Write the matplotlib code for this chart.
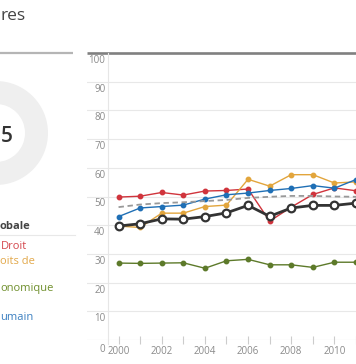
import matplotlib
matplotlib.use("Agg")
from matplotlib import pyplot
from matplotlib import transforms
from matplotlib.patches import Wedge

W, H = 356, 364

years = list(range(2000, 2012))
droit = [49.8, 50.1, 51.4, 50.5, 51.9, 52.1, 52.6, 41.4, 46.3, 50.7, 53.0, 52.0]
droits_de = [39.7, 39.2, 44.2, 44.2, 46.5, 47.0, 56.0, 53.6, 57.6, 57.6, 54.7, 55.1]
economique = [26.8, 26.7, 26.8, 26.9, 25.0, 27.6, 28.1, 26.2, 26.2, 25.3, 27.1, 27.1]
humain = [43.0, 46.0, 46.5, 47.0, 49.1, 50.6, 51.2, 52.1, 52.8, 53.8, 52.9, 55.9]
moyenne = [46.3, 47.2, 47.7, 48.0, 48.4, 48.8, 49.5, 49.9, 50.2, 50.2, 50.0, 49.9]
globale = [39.7, 40.5, 42.2, 42.1, 43.0, 44.3, 46.9, 43.1, 46.0, 46.9, 46.9, 47.7]

y_ticks = list(range(0, 101, 10))
x_tick_labels = [str(y) if y % 2 == 0 else "" for y in years]

legend_labels = ["obale", "Droit", "oits de", "onomique", "umain"]

pyplot.rcParams['font.family'] = ['Open Sans', 'DejaVu Sans']

fig = pyplot.figure(figsize=(W / 100, H / 100), dpi=100, facecolor='w')

# fond en pixels (origine en haut a gauche)
bg = fig.add_axes([0, 0, 1, 1])
bg.set_xlim(0, W)
bg.set_ylim(H, 0)
bg.axis('off')

bg.text(0, 19.5, "res", fontsize=12.5, color='#444444', va='baseline', ha='left')
bg.plot([0, 73], [52.5, 52.5], color='#b5b5b5', lw=1.6, solid_capstyle='butt')
bg.plot([87, W], [52.5, 52.5], color='#808080', lw=1.9, solid_capstyle='butt')

bg.add_patch(Wedge((-4, 133), 52, 0, 360, width=23, facecolor='#efefef', edgecolor='none'))
bg.text(13, 141.7, "5", fontsize=15, fontweight='semibold', color='#333333', ha='right', va='baseline')

bg.text(0, 229, legend_labels[0], fontsize=8, fontweight='bold', color='#444444', va='baseline')
bg.plot([0, 75], [235, 235], color='#e8e8e8', lw=0.8)
bg.text(1, 249, legend_labels[1], fontsize=8, color='#d4474d', va='baseline')
bg.text(0, 264.3, legend_labels[2], fontsize=8, color='#e2a84a', va='baseline')
bg.text(0, 291, legend_labels[3], fontsize=8, color='#6f8f2c', va='baseline')
bg.text(0, 320, legend_labels[4], fontsize=8, color='#3a7fc0', va='baseline')

# graphique principal
x0 = 2000 - (119.3 - 87) / 22.1
x1 = 2000 + (W - 119.3) / 22.1
ax = fig.add_axes([87 / W, (H - 340) / H, (W - 87) / W, 287 / H])
ax.set_facecolor('none')
ax.set_xlim(x0, x1)
ax.set_ylim(0, 100)
for s in ax.spines.values():
    s.set_visible(False)

for v in y_ticks[:-1]:
    ax.axhline(v, color='#d9d9d9' if v == 0 else '#e8e8e8', lw=0.8, zorder=0)
ax.axvline(2000 - (119.3 - 108) / 22.1, ymin=-0.015, ymax=1, color='#e6e6e6', lw=0.8, zorder=0, clip_on=False)

lab_tr = transforms.offset_copy(
    transforms.blended_transform_factory(fig.transFigure, ax.transData),
    fig=fig, x=0, y=-7.5, units='dots')
for v in y_ticks:
    dy = -2.5 if v == 0 else 0
    ax.text(105.5 / W, v, str(v), transform=transforms.offset_copy(lab_tr, fig=fig, y=dy, units='dots'),
            fontsize=7, color='#8a8a8a', ha='right', va='center')

ax.set_yticks([])
ax.set_xticks(years)
ax.set_xticklabels(x_tick_labels)
ax.tick_params(axis='x', direction='inout', length=6, width=0.8, color='#cccccc',
               labelsize=7, labelcolor='#8a8a8a', pad=1.5)

ax.plot(years, economique, color='#5d7a2a', lw=1.0, marker='o', ms=3.2, zorder=3)
ax.plot(years, droit, color='#d0343c', lw=1.0, marker='o', ms=3.2, zorder=3)
ax.plot(years, droits_de, color='#e2a53c', lw=1.0, marker='o', ms=3.2, zorder=3)
ax.plot(years, humain, color='#1f6fb5', lw=1.0, marker='o', ms=3.2, zorder=3)
ax.plot(years, moyenne, color='#999999', lw=1.3, ls=(0, (3, 2)), zorder=3)
ax.plot(years, globale, color='#333333', lw=2.0, marker='o', ms=5.5,
        markerfacecolor='white', markeredgecolor='#333333', markeredgewidth=1.6, zorder=4)

pyplot.savefig("out.png", dpi=100)
